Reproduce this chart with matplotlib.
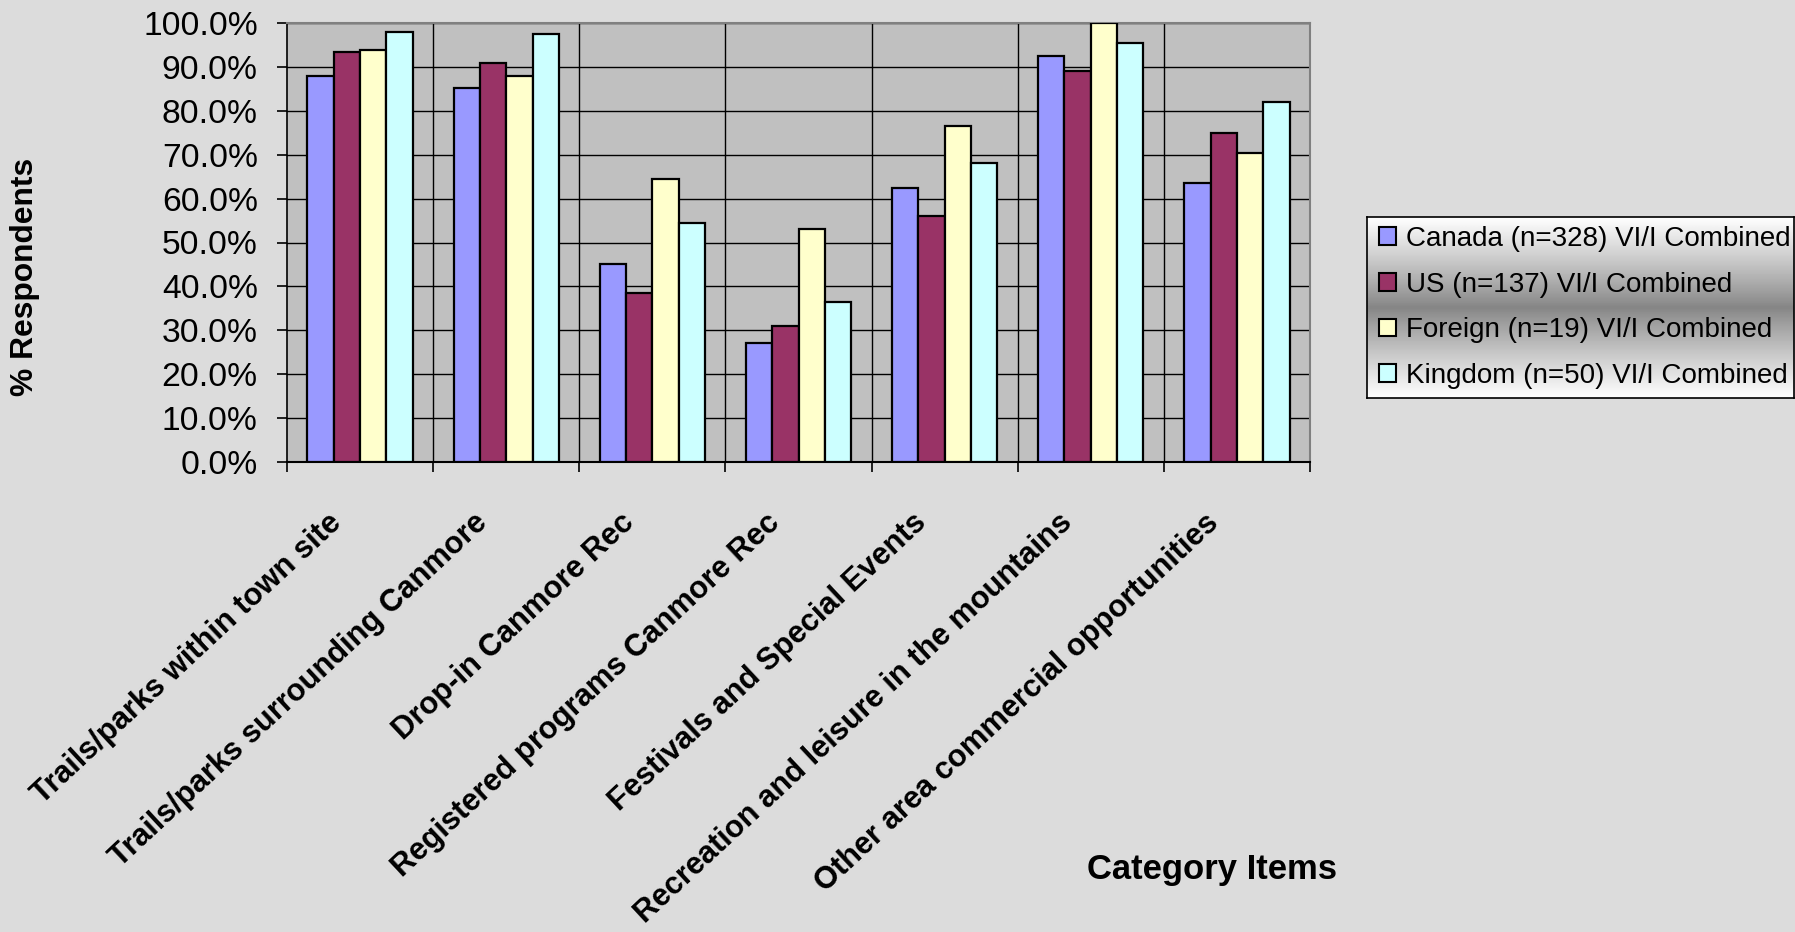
import matplotlib
matplotlib.use('Agg')
import matplotlib.pyplot as plt
import matplotlib.transforms as mtransforms
from matplotlib.patches import Patch
import numpy as np

plt.rcParams['font.family'] = ['Liberation Sans', 'DejaVu Sans']

categories = ['Trails/parks within town site',
              'Trails/parks surrounding Canmore',
              'Drop-in Canmore Rec',
              'Registered programs Canmore Rec',
              'Festivals and Special Events',
              'Recreation and leisure in the mountains',
              'Other area commercial opportunities']

canada = [87.9, 85.3, 45.0, 27.0, 62.4, 92.4, 63.5]
us = [93.4, 91.0, 38.4, 31.0, 56.0, 89.0, 74.9]
foreign = [93.9, 87.9, 64.4, 53.0, 76.5, 100.0, 70.4]
kingdom = [97.9, 97.4, 54.5, 36.4, 68.0, 95.4, 81.9]

series_names = ['Canada (n=328) VI/I Combined',
                'US (n=137) VI/I Combined',
                'Foreign (n=19) VI/I Combined',
                'Kingdom (n=50) VI/I Combined']
series_colors = ['#9999ff', '#993366', '#ffffcc', '#ccffff']
yticks = [0, 10, 20, 30, 40, 50, 60, 70, 80, 90, 100]

W, H = 1795, 932
fig = plt.figure(figsize=(W / 100, H / 100), dpi=100)
fig.patch.set_facecolor('#dcdcdc')

# plot area in pixels
left, right, top, bottom = 287, 1310, 23, 462
ax = fig.add_axes([left / W, 1 - bottom / H, (right - left) / W, (bottom - top) / H])
ax.set_facecolor('#c0c0c0')

x = np.arange(len(categories))
bw = 0.18
for i, vals in enumerate([canada, us, foreign, kingdom]):
    ax.bar(x + (i - 1.5) * bw, vals, width=bw, color=series_colors[i],
           edgecolor='black', linewidth=1.6, zorder=3)

ax.set_xlim(-0.5, len(categories) - 0.5)
ax.set_ylim(0, 100)
ax.set_yticks(yticks)
ax.set_yticklabels(['%.1f%%' % v for v in yticks], fontsize=24.2)
ax.yaxis.grid(True, color='black', linewidth=1.0, zorder=1)
ax.set_axisbelow(True)

# category boundaries as vertical lines + tick marks
bounds = np.arange(-0.5, len(categories), 1.0)
for b in bounds[1:-1]:
    ax.axvline(b, color='black', linewidth=1.0, zorder=1)
ax.set_xticks(bounds, minor=True)
ax.set_xticks(x)
ax.set_xticklabels(categories, rotation=43, ha='right', rotation_mode='anchor',
                   fontsize=22.2, fontweight='bold')
ax.tick_params(axis='x', which='major', length=0, pad=33)
ax.tick_params(axis='x', which='minor', length=7, width=1.2, direction='out')
ax.tick_params(axis='y', length=7, width=1.2, direction='out', pad=14)
shift = mtransforms.ScaledTranslation(-0.33, 0, fig.dpi_scale_trans)
for lab in ax.get_xticklabels():
    lab.set_transform(lab.get_transform() + shift)

ax.spines['top'].set_color('#808080')
ax.spines['right'].set_color('#808080')
ax.spines['top'].set_linewidth(1.5)
ax.spines['right'].set_linewidth(1.5)
ax.spines['left'].set_linewidth(1.2)
ax.spines['bottom'].set_linewidth(1.5)

fig.text(25 / W, 1 - 277 / H, '% Respondents', rotation=90, fontsize=22.9,
         fontweight='bold', ha='center', va='center')
fig.text(1212 / W, 1 - 869 / H, 'Category Items', fontsize=24.9,
         fontweight='bold', ha='center', va='center')

# legend with gradient background
lx0, lx1, ly0, ly1 = 1367, 1794, 217, 398
lax = fig.add_axes([lx0 / W, 1 - ly1 / H, (lx1 - lx0) / W, (ly1 - ly0) / H])
grad = np.abs(np.linspace(-1, 1, 200)) ** 0.9
grad = 0.52 + 0.48 * grad
lax.imshow(grad.reshape(-1, 1), aspect='auto', cmap='gray', vmin=0, vmax=1,
           extent=[0, 1, 0, 1])
lax.set_xticks([])
lax.set_yticks([])
for s in lax.spines.values():
    s.set_color('black')
    s.set_linewidth(1.2)
handles = [Patch(facecolor=c, edgecolor='black', linewidth=1.5) for c in series_colors]
lax.legend(handles, series_names, loc='center left', bbox_to_anchor=(-0.01, 0.5),
           frameon=False, fontsize=20, handlelength=0.6, handleheight=0.6,
           handletextpad=0.35, labelspacing=0.71, borderaxespad=0.2)

fig.savefig('out.png', dpi=100, facecolor=fig.get_facecolor())
